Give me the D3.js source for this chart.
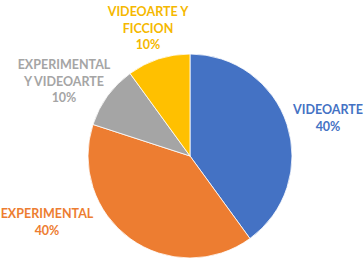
<!DOCTYPE html>
<html lang="es">
<head>
<meta charset="utf-8">
<title>Pie</title>
<script src="https://d3js.org/d3.v7.min.js"></script>
<style>
  body { margin: 0; background: #fff; }
  .lbl { font-family: Lato, "Open Sans", sans-serif; font-weight: 700; font-size: 12.5px; }
</style>
</head>
<body>
<svg width="364" height="264"></svg>
<script>
// data
const categories = ["VIDEOARTE", "EXPERIMENTAL", "EXPERIMENTAL Y VIDEOARTE", "VIDEOARTE Y FICCION"];
const values = [40, 40, 10, 10];
const labelLines = [["VIDEOARTE"], ["EXPERIMENTAL"], ["EXPERIMENTAL", "Y VIDEOARTE"], ["VIDEOARTE Y", "FICCION"]];
const colors = ["#4472C4", "#ED7D31", "#A5A5A5", "#FFC000"];
// label anchor (center x, first baseline y), like Excel's best fit
const labelPos = [[328, 114], [47, 218], [64, 69], [148, 16]];

const svg = d3.select("svg");
const cx = 190, cy = 156, r = 102;

const pie = d3.pie().sort(null).value(d => d);
const arcs = pie(values);
const arc = d3.arc().innerRadius(0).outerRadius(r);

const g = svg.append("g").attr("transform", `translate(${cx},${cy})`);
g.selectAll("path")
  .data(arcs)
  .enter()
  .append("path")
  .attr("d", arc)
  .attr("fill", (d, i) => colors[i])
  .attr("stroke", "#fff")
  .attr("stroke-width", 0.8);

const total = d3.sum(values);
const lh = 16.6;
categories.forEach((c, i) => {
  const lines = labelLines[i].concat([Math.round(values[i] / total * 100) + "%"]);
  const t = svg.append("text")
    .attr("class", "lbl")
    .attr("text-anchor", "middle")
    .attr("fill", colors[i] === "#FFC000" ? "#F5B800" : colors[i]);
  lines.forEach((s, j) => {
    t.append("tspan")
      .attr("x", labelPos[i][0])
      .attr("y", labelPos[i][1] + j * lh)
      .text(s);
  });
});
</script>
</body>
</html>
